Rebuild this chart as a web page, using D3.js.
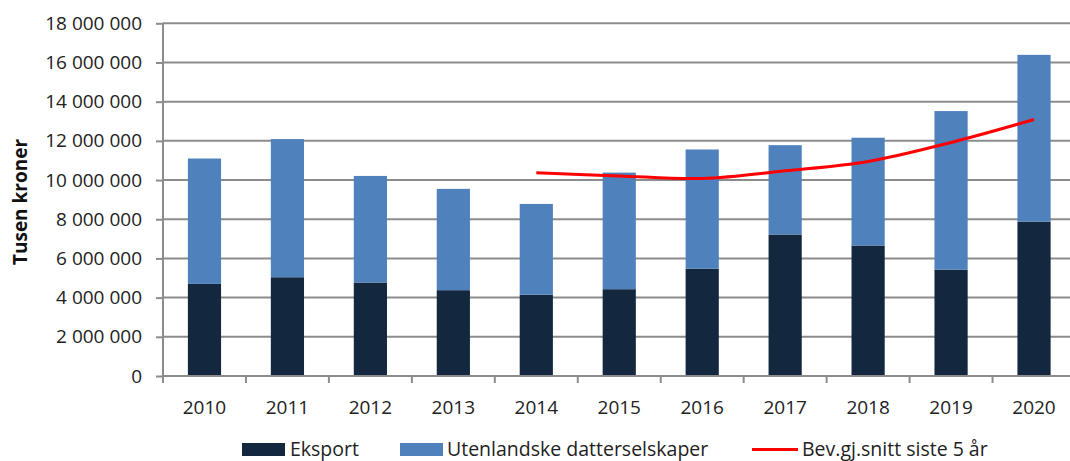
<!DOCTYPE html>
<html lang="no">
<head>
<meta charset="utf-8">
<script src="https://cdn.jsdelivr.net/npm/d3@7"></script>
<style>
    body { margin: 0; background: #fff; }
    svg { display: block; font-family: "Open Sans", sans-serif; }
    .grid line { stroke: #8c8c8c; stroke-width: 2; }
    .axis path, .axis line { stroke: #8c8c8c; stroke-width: 2; }
    .axis text { font-size: 19px; fill: #222; font-family: "Open Sans", sans-serif; }
    .legend text { font-size: 19.5px; fill: #222; }
</style>
</head>
<body>
<script>
    var years = ["2010", "2011", "2012", "2013", "2014", "2015", "2016", "2017", "2018", "2019", "2020"];
    var eksport = [4700000, 5040000, 4770000, 4380000, 4150000, 4430000, 5480000, 7220000, 6660000, 5430000, 7880000];
    var datter = [6400000, 7050000, 5440000, 5170000, 4630000, 5950000, 6080000, 4560000, 5500000, 8090000, 8510000];
    var snittYears = ["2014", "2015", "2016", "2017", "2018", "2019", "2020"];
    var snitt = [10370000, 10210000, 10080000, 10470000, 10950000, 11920000, 13090000];
    var yTicks = [0, 2000000, 4000000, 6000000, 8000000, 10000000, 12000000, 14000000, 16000000, 18000000];

    var width = 1070, height = 461;
    var plot = {left: 163, right: 1075.5, top: 23.3, bottom: 376};
    var colEksport = "#13273f", colDatter = "#4f81bd", colLine = "#ff0000";

    var svg = d3.select("body").append("svg")
        .attr("width", width)
        .attr("height", height);

    var x = d3.scaleBand().domain(years).range([plot.left, plot.right]).padding(0);
    var y = d3.scaleLinear().domain([0, 18000000]).range([plot.bottom, plot.top]);
    var fmt = function (d) { return d3.format(",")(d).replace(/,/g, " "); };

    // gridlines
    svg.append("g").attr("class", "grid")
        .selectAll("line")
        .data(yTicks.filter(function (d) { return d > 0; }))
        .enter().append("line")
        .attr("x1", plot.left).attr("x2", width)
        .attr("y1", function (d) { return y(d); })
        .attr("y2", function (d) { return y(d); });

    // stacked bars
    var barW = x.bandwidth() * 0.4;
    var rows = years.map(function (yr, i) { return {year: yr, eksport: eksport[i], datter: datter[i]}; });
    var stack = d3.stack().keys(["eksport", "datter"])(rows);
    var colors = {eksport: colEksport, datter: colDatter};

    svg.append("g").selectAll("g")
        .data(stack)
        .enter().append("g")
        .attr("fill", function (d) { return colors[d.key]; })
        .selectAll("rect")
        .data(function (d) { return d; })
        .enter().append("rect")
        .attr("x", function (d) { return x(d.data.year) + (x.bandwidth() - barW) / 2; })
        .attr("width", barW)
        .attr("y", function (d) { return y(d[1]); })
        .attr("height", function (d) { return y(d[0]) - y(d[1]); });

    // y axis
    var yAxis = svg.append("g").attr("class", "axis")
        .attr("transform", "translate(" + plot.left + ",0)")
        .call(d3.axisLeft(y).tickValues(yTicks).tickFormat(fmt).tickSize(7).tickPadding(14));
    yAxis.select(".domain").attr("d", "M0," + plot.top + "V" + plot.bottom);

    // x axis
    var xAxis = svg.append("g").attr("class", "axis")
        .attr("transform", "translate(0," + plot.bottom + ")");
    xAxis.append("line")
        .attr("x1", plot.left).attr("x2", width)
        .attr("y1", 0).attr("y2", 0);
    xAxis.selectAll(".tk")
        .data(years)
        .enter().append("line")
        .attr("class", "tk")
        .attr("x1", function (d) { return x(d); })
        .attr("x2", function (d) { return x(d); })
        .attr("y1", 0).attr("y2", 7);
    xAxis.selectAll("text")
        .data(years)
        .enter().append("text")
        .attr("x", function (d) { return x(d) + x.bandwidth() / 2; })
        .attr("y", 38)
        .attr("text-anchor", "middle")
        .text(function (d) { return d; });

    // moving average line
    var line = d3.line()
        .x(function (d, i) { return x(snittYears[i]) + x.bandwidth() / 2; })
        .y(function (d) { return y(d); })
        .curve(d3.curveCatmullRom.alpha(0.5));
    svg.append("path")
        .datum(snitt)
        .attr("fill", "none")
        .attr("stroke", colLine)
        .attr("stroke-width", 3)
        .attr("d", line);

    // y label
    svg.append("text")
        .attr("transform", "translate(27,202) rotate(-90)")
        .attr("text-anchor", "middle")
        .style("font-size", "19px")
        .style("font-weight", "bold")
        .style("fill", "#111")
        .text("Tusen kroner");

    // legend
    var lg = svg.append("g").attr("class", "legend");
    lg.append("rect").attr("x", 242).attr("y", 443).attr("width", 43).attr("height", 13).attr("fill", colEksport);
    lg.append("text").attr("x", 290).attr("y", 456).text("Eksport");
    lg.append("rect").attr("x", 400).attr("y", 443).attr("width", 43).attr("height", 13).attr("fill", colDatter);
    lg.append("text").attr("x", 447).attr("y", 456).text("Utenlandske datterselskaper");
    lg.append("line").attr("x1", 752).attr("x2", 798).attr("y1", 449.5).attr("y2", 449.5)
        .attr("stroke", colLine).attr("stroke-width", 3);
    lg.append("text").attr("x", 802).attr("y", 456).text("Bev.gj.snitt siste 5 år");
</script>
</body>
</html>
